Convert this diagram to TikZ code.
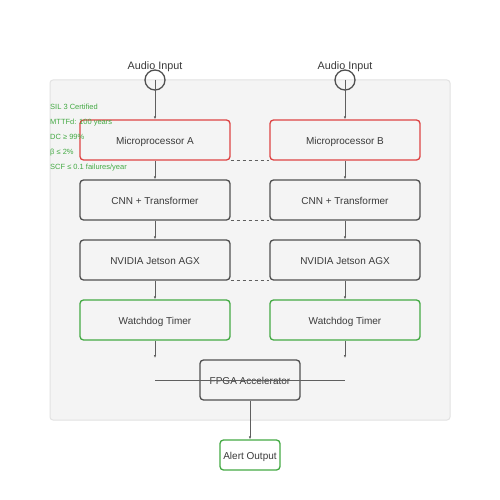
\documentclass[tikz,border=0pt]{standalone}
\usepackage{fontspec}
\setmainfont{Liberation Sans}
\usetikzlibrary{arrows.meta}
\definecolor{panelfill}{HTML}{F4F4F4}
\definecolor{paneledge}{HTML}{E2E2E2}
\definecolor{redc}{HTML}{DD4444}
\definecolor{darkc}{HTML}{505050}
\definecolor{greenc}{HTML}{44AA44}
\definecolor{linec}{HTML}{5F5F5F}
\definecolor{textc}{HTML}{3A3A3A}
\begin{document}
\begin{tikzpicture}[x=1pt,y=-1pt,
  box/.style={draw, line width=1.3pt, rounded corners=3.5pt, minimum width=150pt, minimum height=40pt, inner sep=0pt, text=textc, text height=9pt, text depth=0pt, font=\fontsize{10}{12}\selectfont},
  redbox/.style={box, draw=redc},
  darkbox/.style={box, draw=darkc},
  greenbox/.style={box, draw=greenc},
  conn/.style={draw=linec, line width=0.8pt, -{Latex[length=3pt,width=2.5pt]}},
  dashc/.style={draw=linec, line width=1pt, dash pattern=on 3pt off 3pt},
  note/.style={anchor=base west, text=greenc, inner sep=0pt, font=\fontsize{7.5}{9}\selectfont},
  inlabel/.style={anchor=base, text=textc, inner sep=0pt, font=\fontsize{10.8}{12}\selectfont}]
\useasboundingbox (0,0) rectangle (500,500);
\fill[white] (0,0) rectangle (500,500);
\draw[fill=panelfill, draw=paneledge, line width=1pt, rounded corners=3pt] (50,80) rectangle (450,420);

% inputs
\node[draw=darkc, line width=1.3pt, circle, minimum size=20pt, inner sep=0pt] (inA) at (155,80) {};
\node[draw=darkc, line width=1.3pt, circle, minimum size=20pt, inner sep=0pt] (inB) at (345,80) {};
\node[inlabel] (labA) at (155,69.7) {Audio Input};
\node[inlabel] (labB) at (345,69.7) {Audio Input};

% left column
\node[redbox] (mA) at (155,140) {Microprocessor A};
\node[darkbox] (cA) at (155,200) {CNN + Transformer};
\node[darkbox] (nA) at (155,260) {NVIDIA Jetson AGX};
\node[greenbox] (wA) at (155,320) {Watchdog Timer};
% right column
\node[redbox] (mB) at (345,140) {Microprocessor B};
\node[darkbox] (cB) at (345,200) {CNN + Transformer};
\node[darkbox] (nB) at (345,260) {NVIDIA Jetson AGX};
\node[greenbox] (wB) at (345,320) {Watchdog Timer};

% notes
\node[note] (n1) at (50,109.5) {SIL 3 Certified};
\node[note] (n2) at (50,124.5) {MTTFd: 100 years};
\node[note] (n3) at (50,139.5) {DC ≥ 99\%};
\node[note] (n4) at (50,154.5) {β ≤ 2\%};
\node[note] (n5) at (50,169.5) {SCF ≤ 0.1 failures/year};

% arrows
\draw[conn] (inA.center) -- (mA.north);
\draw[conn] (inB.center) -- (mB.north);
\draw[conn] (mA) -- (cA);
\draw[conn] (cA) -- (nA);
\draw[conn] (nA) -- (wA);
\draw[conn] (mB) -- (cB);
\draw[conn] (cB) -- (nB);
\draw[conn] (nB) -- (wB);
\coordinate (endA) at (155,358);
\coordinate (endB) at (345,358);
\draw[conn] (wA) -- (endA);
\draw[conn] (wB) -- (endB);

% dashed cross links
\draw[dashc] (mA.south east) -- (mB.south west);
\draw[dashc] (cA.south east) -- (cB.south west);
\draw[dashc] (nA.south east) -- (nB.south west);

% FPGA
\node[darkbox, minimum width=100pt] (fpga) at (250,380) {FPGA Accelerator};
\coordinate (hl) at (155,380);
\coordinate (hr) at (345,380);
\draw[draw=linec, line width=1pt] (hl) -- (hr);

% alert
\node[greenbox, minimum width=60pt, minimum height=30pt] (alert) at (250,455) {Alert Output};
\draw[conn] (fpga) -- (alert);
\end{tikzpicture}
\end{document}
